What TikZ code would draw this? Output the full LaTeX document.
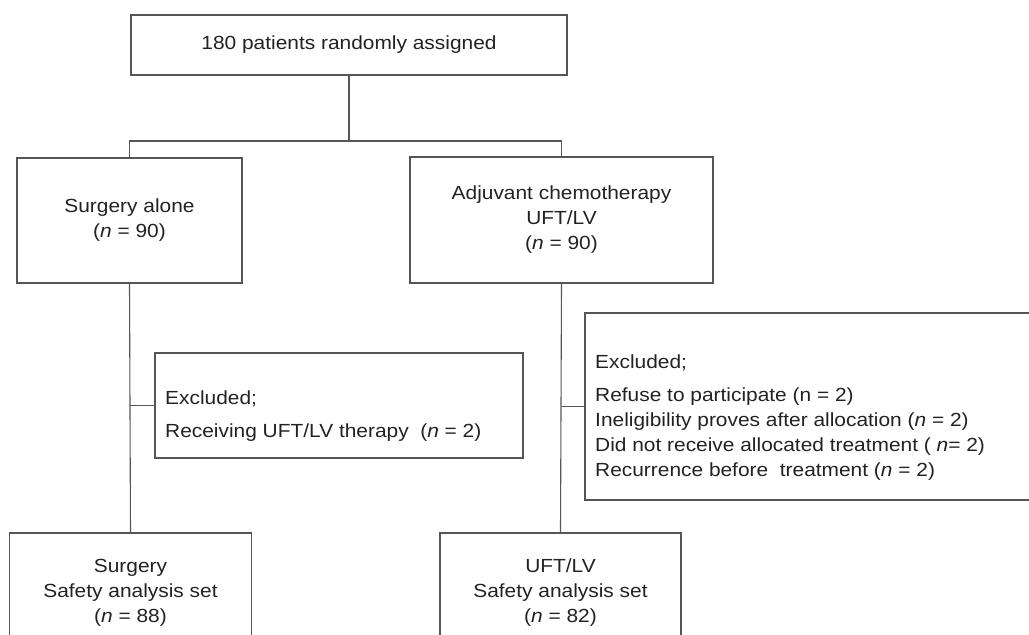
\documentclass[tikz,border=0pt]{standalone}
\usepackage{fontspec}
\setmainfont{Liberation Sans}[FakeStretch=1.1]
\usepackage{xcolor}
\definecolor{linegray}{HTML}{555555}
\definecolor{textgray}{HTML}{222222}

\begin{document}
\begin{tikzpicture}[x=1pt,y=-1pt,
		box/.style={draw=linegray, line width=1.1pt, align=center, inner sep=0pt,
			text=textgray, font=\fontsize{19}{25}\selectfont},
		boxtext/.style={align=left, inner sep=0pt, text=textgray,
			font=\fontsize{19}{25}\selectfont},
		link/.style={draw=linegray, line width=1.1pt}]
		\useasboundingbox (0,0) rectangle (1029,635);
		\clip (0,0) rectangle (1029,635);
		
		% Draw the boxes
		\node[box, minimum width=436pt, minimum height=60pt] (rand) at (349,45) {180 patients randomly assigned};
		\node[box, minimum width=225pt, minimum height=125pt] (surg) at (129.5,220.5) {Surgery alone\\(\textit{n} = 90)};
		\node[box, minimum width=303pt, minimum height=126pt] (chemo) at (561.5,220) {Adjuvant chemotherapy\\UFT/LV\\(\textit{n} = 90)};
		\node[box, minimum width=368pt, minimum height=105pt] (exl) at (339,405.5) {};
		\node[box, minimum width=460pt, minimum height=187pt] (exr) at (815,406.5) {};
		\node[box, minimum width=242pt, minimum height=120pt] (surgset) at (130.5,593) {Surgery\\Safety analysis set\\(\textit{n} = 88)};
		\node[box, minimum width=241pt, minimum height=120pt] (uftset) at (560.5,593) {UFT/LV\\Safety analysis set\\(\textit{n} = 82)};
		
		% Text of the excluded boxes
		\node[boxtext, anchor=north west] (exltxt) at (165,391) {Excluded;\\[8pt]Receiving UFT/LV therapy\ \ (\textit{n} = 2)};
		\node[boxtext, anchor=north west] (exrtxt) at (595,355) {Excluded;\\[8pt]Refuse to participate (n = 2)\\Ineligibility proves after allocation (\textit{n} = 2)\\Did not receive allocated treatment ( \textit{n}= 2)\\Recurrence before\ \ treatment (\textit{n} = 2)};
		
		% Draw the connectors
		\coordinate (fork) at (349,141);
		\draw[link] (rand.south) -- (fork);
		\draw[link] (surg.north) |- (fork) -| (chemo.north);
		\draw[link] (surg.south) -- (surgset.north);
		\draw[link] (chemo.south) -- (uftset.north);
		\draw[link] (surg.south |- exl.west) -- (exl.west);
		\draw[link] (chemo.south |- exr.west) -- (exr.west);
	\end{tikzpicture}
\end{document}
